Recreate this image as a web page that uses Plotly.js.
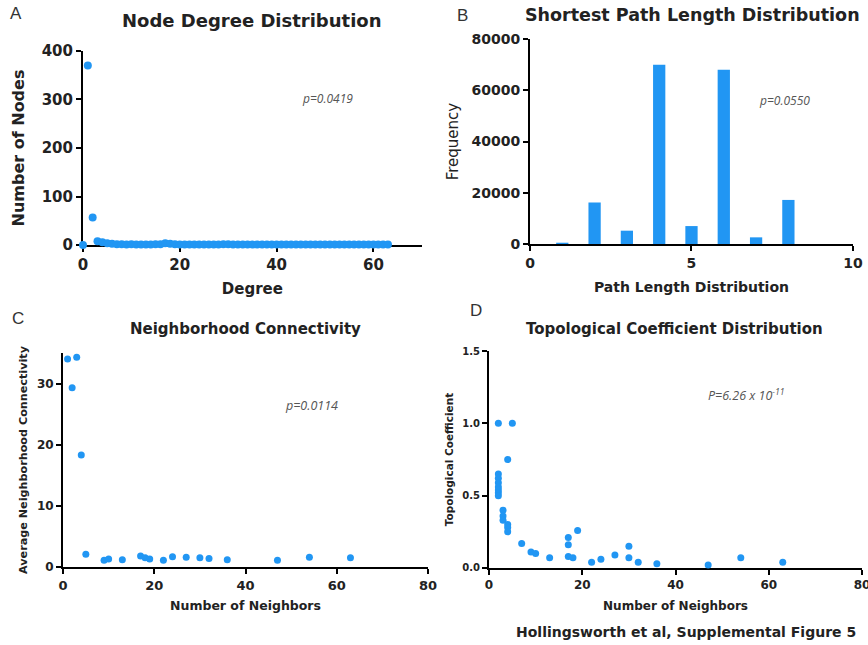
<!DOCTYPE html>
<html>
<head>
<meta charset="utf-8">
<script src="https://cdn.plot.ly/plotly-3.0.1.min.js"></script>
<style>html,body{margin:0;padding:0;background:#fff;}#chart{width:868px;height:645px;}</style>
</head>
<body>
<div id="chart"></div>
<script>
// Panel A: node degree distribution
const degree = [0,1,2,3,4,5,6,7,8,9,10,11,12,13,14,15,16,17,18,19,20,21,22,23,24,25,26,27,28,29,30,31,32,33,34,35,36,37,38,39,40,41,42,43,44,45,46,47,48,49,50,51,52,53,54,55,56,57,58,59,60,61,62,63];
const nodeCount = [0,370,57,8,6,4,3,2,2,1,2,1,1,1,1,2,2,4,3,2,1,1,1,1,1,1,1,1,1,2,2,1,1,1,1,1,1,1,1,1,1,1,1,1,1,1,1,1,1,1,1,1,1,1,1,1,1,1,1,1,1,1,1,1];

// Panel B: shortest path length distribution
const pathLength = [1,2,3,4,5,6,7,8];
const pathFreq = [500,16200,5200,70000,7000,68000,2600,17200];

// Panel C: neighborhood connectivity
const neighborsC = [1,3,2,4,5,9,10,13,17,18,19,22,24,27,30,32,36,47,54,63];
const avgConnectivity = [34.0,34.3,29.3,18.3,2.1,1.1,1.3,1.2,1.8,1.5,1.3,1.1,1.7,1.6,1.5,1.4,1.2,1.1,1.6,1.5];

// Panel D: topological coefficient distribution
const neighborsD = [2,5,4,2,2,2,2,2,2,2,3,3,3,4,4,4,7,9,10,13,17,17,17,18,19,22,24,27,30,30,32,36,47,54,63];
const topoCoef = [1.0,1.0,0.75,0.65,0.62,0.59,0.56,0.54,0.52,0.50,0.40,0.36,0.33,0.30,0.28,0.25,0.17,0.11,0.10,0.07,0.21,0.16,0.08,0.07,0.26,0.04,0.06,0.09,0.15,0.07,0.04,0.03,0.02,0.07,0.04];

// Labels
const panelLabels = ['A','B','C','D'];
const panelTitles = ['Node Degree Distribution','Shortest Path Length Distribution','Neighborhood Connectivity','Topological Coefficient Distribution'];
const pValues = ['p=0.0419','p=0.0550','p=0.0114','P=6.26 x 10<sup>-11</sup>'];
const footer = 'Hollingsworth et al, Supplemental Figure 5';

const blue = '#2196F3';
const F = 'DejaVu Sans';
const ink = '#222';

function tf(size, bold) {
  const f = {family: F, size: size, color: ink};
  if (bold !== false) f.weight = 'bold';
  return f;
}

function ax(domain, anchor, extra) {
  return Object.assign({
    domain: domain, anchor: anchor,
    showgrid: false, zeroline: false,
    showline: true, linecolor: '#000', linewidth: 2,
    ticks: 'outside', ticklen: 5, tickwidth: 2, tickcolor: '#000',
    layer: 'below traces',
    tickfont: tf(13),
    ticklabeloverflow: 'allow',
    fixedrange: true
  }, extra);
}

const traces = [
  {type: 'scatter', mode: 'markers', x: degree, y: nodeCount, xaxis: 'x', yaxis: 'y',
   marker: {color: blue, size: 8}, cliponaxis: false},
  {type: 'bar', x: pathLength, y: pathFreq, xaxis: 'x2', yaxis: 'y2',
   marker: {color: blue}, width: 0.38},
  {type: 'scatter', mode: 'markers', x: neighborsC, y: avgConnectivity, xaxis: 'x3', yaxis: 'y3',
   marker: {color: blue, size: 7}, cliponaxis: false},
  {type: 'scatter', mode: 'markers', x: neighborsD, y: topoCoef, xaxis: 'x4', yaxis: 'y4',
   marker: {color: blue, size: 7}, cliponaxis: false}
];

const layout = {
  width: 868, height: 645,
  margin: {l: 0, r: 0, t: 0, b: 0},
  paper_bgcolor: '#fff', plot_bgcolor: 'rgba(0,0,0,0)',
  showlegend: false,
  font: {family: F, color: ink},
  xaxis: ax([0.0956, 0.486], 'y', {range: [0, 70], dtick: 20, tick0: 0,
    tickfont: tf(15),
    title: {text: 'Degree', font: tf(15), standoff: 10}}),
  yaxis: ax([0.620, 0.921], 'x', {range: [0, 400], dtick: 100,
    tickfont: tf(15),
    title: {text: 'Number of Nodes', font: tf(16), standoff: 13}}),
  xaxis2: ax([0.6106, 0.9827], 'y2', {range: [0, 10], dtick: 5, tick0: 0,
    tickfont: tf(14),
    title: {text: 'Path Length Distribution', font: tf(14), standoff: 12}}),
  yaxis2: ax([0.6217, 0.9395], 'x2', {range: [0, 80000], dtick: 20000, tickformat: 'd',
    tickfont: tf(14),
    title: {text: 'Frequency', font: tf(15, false), standoff: 9}}),
  xaxis3: ax([0.0726, 0.4931], 'y3', {range: [0, 80], dtick: 20, tick0: 0,
    tickfont: tf(13),
    title: {text: 'Number of Neighbors', font: tf(12.5), standoff: 10}}),
  yaxis3: ax([0.1209, 0.4527], 'x3', {range: [0, 35], tickvals: [0, 10, 20, 30],
    tickfont: tf(12),
    title: {text: 'Average Neighborhood Connectivity', font: tf(11.2), standoff: 7}}),
  xaxis4: ax([0.5634, 0.9931], 'y4', {range: [0, 80], dtick: 20, tick0: 0,
    tickfont: tf(12),
    title: {text: 'Number of Neighbors', font: tf(12), standoff: 10}}),
  yaxis4: ax([0.1194, 0.4558], 'x4', {range: [0, 1.5], dtick: 0.5, tickformat: '.1f',
    tickfont: tf(10),
    title: {text: 'Topological Coefficient', font: tf(10.5), standoff: 7}}),
  annotations: [
    {text: panelLabels[0], x: 8, y: 14},
    {text: panelLabels[1], x: 455, y: 15},
    {text: panelLabels[2], x: 10, y: 318},
    {text: panelLabels[3], x: 468, y: 311}
  ].map(a => ({text: a.text, xref: 'paper', yref: 'paper', x: a.x / 868, y: 1 - a.y / 645,
      xanchor: 'left', yanchor: 'middle', showarrow: false,
      font: {family: 'Liberation Sans', size: 17, color: '#333'}}))
  .concat([
    {text: panelTitles[0], x: 252, y: 20, s: 18},
    {text: panelTitles[1], x: 692, y: 15, s: 17.5},
    {text: panelTitles[2], x: 245, y: 329, s: 15},
    {text: panelTitles[3], x: 674, y: 329, s: 15}
  ].map(a => ({text: a.text, xref: 'paper', yref: 'paper', x: a.x / 868, y: 1 - a.y / 645,
      xanchor: 'center', yanchor: 'middle', showarrow: false,
      font: tf(a.s)})))
  .concat([
    {text: pValues[0], x: 300, y: 98, s: 12},
    {text: pValues[1], x: 757, y: 100, s: 12},
    {text: pValues[2], x: 283, y: 405, s: 12.5},
    {text: pValues[3], x: 706, y: 395, s: 12.5}
  ].map(a => ({text: '<i>' + a.text + '</i>', xref: 'paper', yref: 'paper', x: a.x / 868, y: 1 - a.y / 645,
      xanchor: 'left', yanchor: 'middle', showarrow: false,
      font: {family: 'Open Sans', size: a.s, color: '#555'}})))
  .concat([{text: footer, xref: 'paper', yref: 'paper', x: 686 / 868, y: 1 - 632 / 645,
      xanchor: 'center', yanchor: 'middle', showarrow: false,
      font: tf(14)}])
};

Plotly.newPlot('chart', traces, layout, {displayModeBar: false, staticPlot: true});
</script>
</body>
</html>
